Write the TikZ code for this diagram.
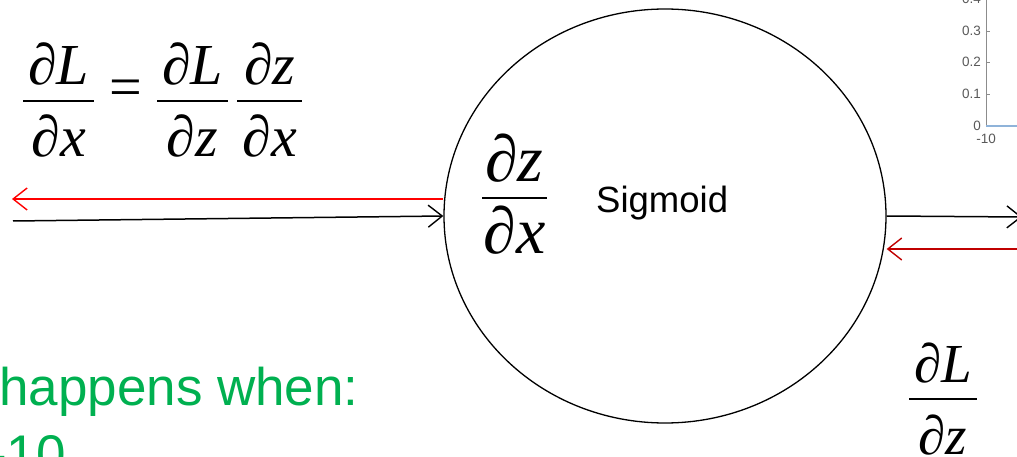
\documentclass[tikz,border=0pt]{standalone}
\usepackage{amsmath}
\usepackage{fontspec}
\setmainfont{Liberation Sans}
\newfontfamily\tnr{Liberation Serif}
\usepackage{xcolor}
\definecolor{pptgreen}{HTML}{00B050}
\definecolor{gradred}{HTML}{FF0000}
\definecolor{gradredd}{HTML}{C00000}
\definecolor{axisgray}{HTML}{8C8C8C}
\definecolor{ticktext}{HTML}{595959}
\definecolor{curveblue}{HTML}{8FB3D9}
\usetikzlibrary{positioning,arrows.meta,shapes.geometric,calc}
\tikzset{
  gate/.style ={ellipse, draw=black, line width=1.3pt, minimum width=442pt,
                minimum height=414pt, inner sep=0pt},
  fwd/.style  ={-{Straight Barb[length=14pt,width=22pt,line width=1.4pt]}, line width=1.5pt},
  bwd/.style  ={fwd, draw=gradred},
  bwdd/.style ={fwd, draw=gradredd},
  eq/.style   ={inner sep=0pt, font=\fontsize{58}{70}\selectfont},
  eqs/.style  ={eq, font=\fontsize{55}{66}\selectfont},
  eql/.style  ={eq, font=\fontsize{66}{79}\selectfont},
  lbl/.style  ={inner sep=0pt, font=\fontsize{36.5}{44}\selectfont},
  note/.style ={inner sep=0pt, text=pptgreen, font=\fontsize{53}{64}\selectfont},
  tk/.style   ={inner sep=0pt, text=ticktext, font=\fontsize{13.5}{16}\selectfont},
}
\newcommand{\pd}[1]{\text{\tnr ∂\itshape #1}}
\newcommand{\pfrac}[3][5pt]{\genfrac{}{}{1.7pt}{0}%
  {\kern#1\pd{#2}\rule[-10pt]{0pt}{10pt}\kern#1}{\kern#1\pd{#3}\rule{0pt}{50pt}\kern#1}}

\begin{document}
\begin{tikzpicture}[x=1pt,y=-1pt]
  \clip (0,0) rectangle (1017,457);
  % sigmoid gate
  \node[gate] (sig) at (665,216) {};
  \node[eql, anchor=base] (dzdx) at (514.5,204) {$\pfrac[1.5pt]{z}{x}$};
  \node[lbl, anchor=base west] (name) at (596,213) {Sigmoid};
  % chain rule and upstream gradient
  \node[eq, anchor=base] (chain) at (162.5,107)
    {$\pfrac{L}{x}\text{\tnr\kern14pt=\kern14pt}\pfrac{L}{z}\kern7pt\pfrac{z}{x}$};
  \node[eqs, anchor=base] (dldz) at (943,405) {$\pfrac{L}{z}$};
  % arrows in and out
  \coordinate (xin)   at (13,221);
  \coordinate (gradx) at (12,199);
  \coordinate (zout)  at (1022,217);
  \coordinate (gradz) at (1040,249);
  \draw[fwd]  (xin) -- (sig.west);
  \draw[bwd]  (sig.west |- gradx) -- (gradx);
  \draw[fwd]  (sig.east) -- (zout);
  \draw[bwdd] (gradz) -- (sig.east |- gradz);
  % note, cut at the margin
  \node[note, anchor=base west] (when) at (-1,405) {happens when:};
  \node[note, anchor=base west] (cond) at (-11,472) {-10};
  % corner of the sigmoid plot
  \draw[axisgray, line width=0.8pt] (986,-5) -- (986,126);
  \foreach \y/\v in {-1/0.4, 31/0.3, 62/0.2, 94/0.1, 126/0} {
    \draw[axisgray, line width=0.8pt] (986,\y) -- (990,\y);
    \node[tk, anchor=east] at (981,\y) {\v};
  }
  \draw[curveblue, line width=1.2pt] (986,126) -- (1020,126);
  \node[tk, anchor=north] (xmin) at (986,134) {-10};
\end{tikzpicture}
\end{document}
